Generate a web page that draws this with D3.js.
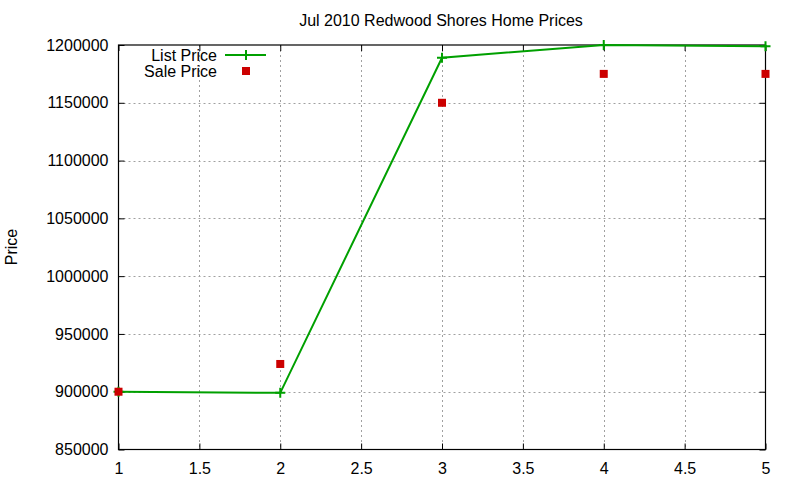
<!DOCTYPE html>
<html><head><meta charset="utf-8">
<script src="https://cdn.jsdelivr.net/npm/d3@7"></script>
<style>body{margin:0;background:#fff}text{font-family:"Liberation Sans",Arial,sans-serif;fill:#000}</style>
</head><body>
<svg id="c" width="800" height="480"></svg>
<script>
const xs = [1, 2, 3, 4, 5];
const listPrice = [900000, 899000, 1189000, 1200000, 1199000];
const salePrice = [900000, 924000, 1150000, 1175000, 1175000];
const xTicks = [1, 1.5, 2, 2.5, 3, 3.5, 4, 4.5, 5];
const yTicks = [850000, 900000, 950000, 1000000, 1050000, 1100000, 1150000, 1200000];
const seriesNames = ["List Price", "Sale Price"];

const svg = d3.select("#c");
const L = 118.5, R = 765.5, T = 45, B = 449.5;
const x = d3.scaleLinear().domain([1, 5]).range([L, R]);
const y = d3.scaleLinear().domain([850000, 1200000]).range([B, T]);
const green = "#00a000", red = "#cc0000";
const fs = "16px";

// grid
const g = svg.append("g");
g.selectAll(".gx").data(xTicks.slice(1, -1)).join("line")
  .attr("x1", d => Math.round(x(d)) + 0.5).attr("x2", d => Math.round(x(d)) + 0.5)
  .attr("y1", T).attr("y2", B)
  .attr("stroke", "#a0a0a0").attr("stroke-width", 1).attr("stroke-dasharray", "2,3");
g.selectAll(".gy").data(yTicks.slice(1, -1)).join("line")
  .attr("y1", d => Math.round(y(d)) + 0.5).attr("y2", d => Math.round(y(d)) + 0.5)
  .attr("x1", L).attr("x2", R)
  .attr("stroke", "#a0a0a0").attr("stroke-width", 1).attr("stroke-dasharray", "2,3");

// axes with inward ticks (gnuplot style, mirrored)
const tl = 6;
const axB = d3.axisBottom(x).tickValues(xTicks).tickSize(-tl).tickPadding(9).tickFormat(d3.format("~g"));
const axT = d3.axisTop(x).tickValues(xTicks).tickSize(-tl).tickFormat("");
const axL = d3.axisLeft(y).tickValues(yTicks).tickSize(-tl).tickPadding(10).tickFormat(d3.format("d"));
const axR = d3.axisRight(y).tickValues(yTicks).tickSize(-tl).tickFormat("");
function style(sel) {
  sel.select(".domain").remove();
  sel.selectAll("line").attr("stroke", "#000");
  sel.selectAll("text").style("font-size", fs).style("font-family", '"Liberation Sans",Arial,sans-serif').attr("fill", "#000");
}
svg.append("g").attr("transform", `translate(0,${B})`).call(axB).call(style).selectAll("text").attr("dy", "0.95em");
svg.append("g").attr("transform", `translate(0,${T})`).call(axT).call(style);
svg.append("g").attr("transform", `translate(${L},0)`).call(axL).call(style);
svg.append("g").attr("transform", `translate(${R},0)`).call(axR).call(style);
svg.append("rect").attr("x", L).attr("y", T).attr("width", R - L).attr("height", B - T)
  .attr("fill", "none").attr("stroke", "#000").attr("stroke-width", 1.2);

// list price line
const listData = xs.map((d, i) => [d, listPrice[i]]);
svg.append("path").datum(listData)
  .attr("d", d3.line().x(d => x(d[0])).y(d => y(d[1])))
  .attr("fill", "none").attr("stroke", green).attr("stroke-width", 2);
const ps = 5;
svg.selectAll(".pl").data(listData).join("path")
  .attr("d", d => `M${x(d[0]) - ps},${y(d[1])}h${2 * ps}M${x(d[0])},${y(d[1]) - ps}v${2 * ps}`)
  .attr("stroke", green).attr("stroke-width", 2);

// sale price squares
const sq = 8;
svg.selectAll(".sq").data(xs.map((d, i) => [d, salePrice[i]])).join("rect")
  .attr("x", d => x(d[0]) - sq / 2).attr("y", d => y(d[1]) - sq / 2)
  .attr("width", sq).attr("height", sq).attr("fill", red);

// legend
svg.append("text").attr("x", 217).attr("y", 61).attr("text-anchor", "end").style("font-size", fs).text(seriesNames[0]);
svg.append("line").attr("x1", 225).attr("x2", 266).attr("y1", 55).attr("y2", 55).attr("stroke", green).attr("stroke-width", 2);
svg.append("path").attr("d", `M${246 - ps},55h${2 * ps}M246,${55 - ps}v${2 * ps}`).attr("stroke", green).attr("stroke-width", 2);
svg.append("text").attr("x", 217).attr("y", 77).attr("text-anchor", "end").style("font-size", fs).text(seriesNames[1]);
svg.append("rect").attr("x", 246 - sq / 2).attr("y", 71 - sq / 2).attr("width", sq).attr("height", sq).attr("fill", red);

// title & label
svg.append("text").attr("x", 441).attr("y", 26).attr("text-anchor", "middle").style("font-size", fs).text("Jul 2010 Redwood Shores Home Prices");
svg.append("text").attr("transform", "translate(17,247) rotate(-90)").attr("text-anchor", "middle").style("font-size", fs).text("Price");
</script>
</body></html>
